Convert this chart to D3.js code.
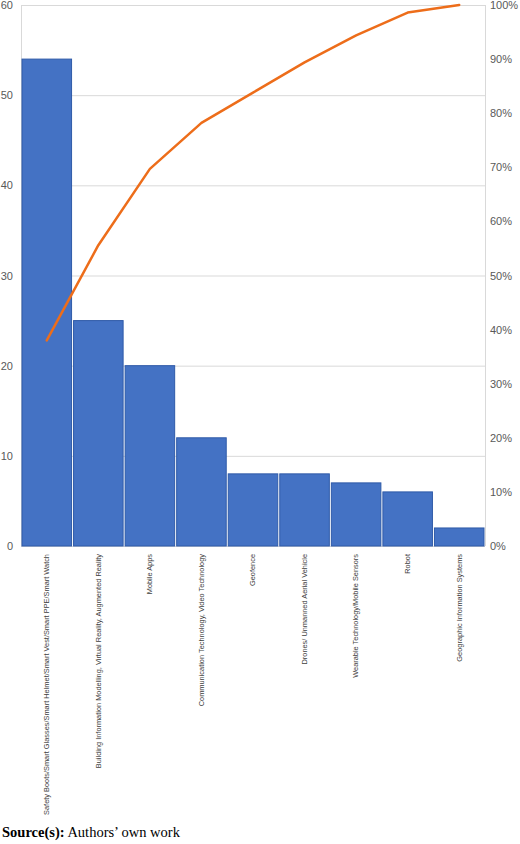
<!DOCTYPE html>
<html>
<head>
<meta charset="utf-8">
<script src="https://cdn.jsdelivr.net/npm/d3@7"></script>
<style>
  body { margin: 0; background: #fff; }
  svg { display: block; }
</style>
</head>
<body>
<svg id="chart" width="520" height="844"></svg>
<script>
// data
var categories = [
  'Safety Boots/Smart Glasses/Smart Helmet/Smart Vest/Smart PPE/Smart Watch',
  'Building Information Modelling, Virtual Reality, Augmented Reality',
  'Mobile Apps',
  'Communication Technology, Video Technology',
  'Geofence',
  'Drones/ Unmanned Aerial Vehicle',
  'Wearable Technology/Mobile Sensors',
  'Robot',
  'Geographic Information Systems'
]
var counts = [54, 25, 20, 12, 8, 8, 7, 6, 2]
var cumulative = [38.0, 55.6, 69.7, 78.2, 83.8, 89.4, 94.4, 98.6, 100]
var leftTicks = [0, 10, 20, 30, 40, 50, 60]
var rightTicks = [0, 10, 20, 30, 40, 50, 60, 70, 80, 90, 100]

var svg = d3.select('#chart')
var plotLeft = 21, plotRight = 485, plotTop = 5, plotBottom = 546
var labelFont = 'Liberation Sans, Arial, sans-serif'

var x = d3.scaleBand().domain(categories).range([plotLeft, plotRight]).padding(0)
var y = d3.scaleLinear().domain([0, 60]).range([plotBottom, plotTop])
var y2 = d3.scaleLinear().domain([0, 100]).range([plotBottom, plotTop])

// gridlines
svg.append('g')
  .selectAll('line')
  .data(leftTicks)
  .join('line')
  .attr('x1', plotLeft).attr('x2', plotRight)
  .attr('y1', function(d) { return y(d) + 0.5 })
  .attr('y2', function(d) { return y(d) + 0.5 })
  .attr('stroke', '#d9d9d9')

// plot frame sides
svg.append('line').attr('x1', plotLeft + 0.5).attr('x2', plotLeft + 0.5).attr('y1', plotTop).attr('y2', plotBottom).attr('stroke', '#d9d9d9')
svg.append('line').attr('x1', plotRight + 0.5).attr('x2', plotRight + 0.5).attr('y1', plotTop).attr('y2', plotBottom).attr('stroke', '#d9d9d9')

// bars
svg.append('g')
  .selectAll('rect')
  .data(counts)
  .join('rect')
  .attr('x', function(d, i) { return x(categories[i]) + 1 })
  .attr('width', x.bandwidth() - 2)
  .attr('y', function(d) { return y(d) })
  .attr('height', function(d) { return plotBottom - y(d) })
  .attr('fill', '#4472c4')
  .attr('stroke', '#2f5aa8')
  .attr('stroke-width', 1)

// cumulative line
var line = d3.line()
  .x(function(d, i) { return x(categories[i]) + x.bandwidth() / 2 })
  .y(function(d) { return y2(d) })

svg.append('path')
  .datum(cumulative)
  .attr('d', line)
  .attr('fill', 'none')
  .attr('stroke', '#ed6d1a')
  .attr('stroke-width', 2.5)
  .attr('stroke-linejoin', 'round')
  .attr('stroke-linecap', 'round')

// left axis
var leftAxis = svg.append('g')
  .attr('transform', 'translate(' + (plotLeft - 8) + ',0)')
  .call(d3.axisLeft(y).tickValues(leftTicks).tickSize(0).tickPadding(0))
leftAxis.select('.domain').remove()
leftAxis.selectAll('text')
  .attr('fill', '#595959')
  .style('font-family', labelFont)
  .style('font-size', '11px')

// right axis
var rightAxis = svg.append('g')
  .attr('transform', 'translate(' + (plotRight + 5) + ',0)')
  .call(d3.axisRight(y2).tickValues(rightTicks).tickSize(0).tickPadding(0)
    .tickFormat(function(d) { return d + '%' }))
rightAxis.select('.domain').remove()
rightAxis.selectAll('text')
  .attr('fill', '#595959')
  .style('font-family', labelFont)
  .style('font-size', '11px')

// category labels
var xAxis = svg.append('g')
  .attr('transform', 'translate(0,' + (plotBottom + 8) + ')')
  .call(d3.axisBottom(x).tickSize(0).tickPadding(0))
xAxis.select('.domain').remove()
xAxis.selectAll('text')
  .attr('transform', 'rotate(-90)')
  .attr('x', 0)
  .attr('y', 0)
  .attr('dy', '0.32em')
  .attr('text-anchor', 'end')
  .attr('fill', '#404040')
  .style('font-family', labelFont)
  .style('font-size', '7.4px')

// source
var src = svg.append('text')
  .attr('x', 2)
  .attr('y', 837)
  .style('font-family', 'Liberation Serif, Times New Roman, serif')
  .style('font-size', '14.5px')
  .attr('fill', '#000')
src.append('tspan').attr('font-weight', 'bold').text('Source(s):')
src.append('tspan').text(' Authors\u2019 own work')
</script>
</body>
</html>
